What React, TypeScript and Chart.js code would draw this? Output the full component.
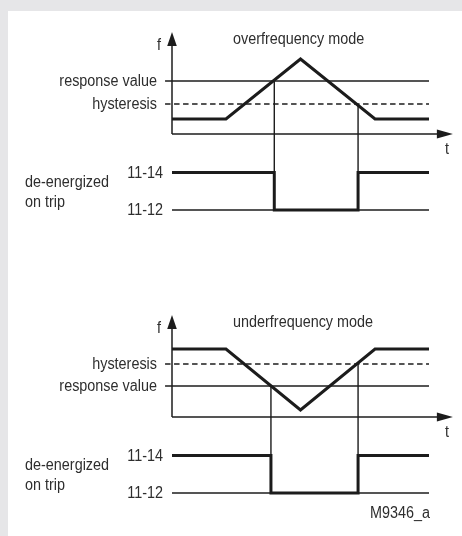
import React, { useEffect, useRef } from 'react';
import { Chart, registerables } from 'chart.js';

Chart.register(...registerables);

// ---------- data (time in arbitrary units: 0 = f-axis, 100 = end of trace; f in arbitrary units, 0 = t-axis)
const SIGNAL_T = [0, 21, 50, 79, 100];
const OVER_F = [1.5, 1.5, 7.5, 1.5, 1.5];
const UNDER_F = [6.8, 6.8, 0.7, 6.8, 6.8];
const THRESHOLD_LABELS = ['response value', 'hysteresis'];
const OVER_THRESHOLDS = [5.3, 3.0];
const UNDER_THRESHOLDS = [3.1, 5.3];
// relay switch times: first at response value crossing, second at hysteresis crossing
const OVER_SWITCH_T = [39.8, 72.4];
const UNDER_SWITCH_T = [38.5, 72.4];
const RELAY_LABELS = ['11-14', '11-12'];
const RELAY_LEVELS = [-3.85, -7.6];
const RELAY_STATES = [0, 1, 0, 0]; // index into RELAY_LEVELS at [0, s1, s2, 100]
const T_END = 100;
const F_AXIS_TIP = 10.2;
const T_AXIS_TIP = 109.3;
const TICK_START = -2.7;

const W = 462;
const FONT = '15px "Liberation Sans", Arial, sans-serif';
const INK = '#1c1c1c';
const TEXT = '#2e2e2e';

type Panel = {
  title: string;
  signal: number[];
  thresholds: number[];
  switchT: number[];
  top: number;
  height: number;
  footer?: string;
};

const PANELS: Panel[] = [
  { title: 'overfrequency mode', signal: OVER_F, thresholds: OVER_THRESHOLDS, switchT: OVER_SWITCH_T, top: 0, height: 283 },
  { title: 'underfrequency mode', signal: UNDER_F, thresholds: UNDER_THRESHOLDS, switchT: UNDER_SWITCH_T, top: 283, height: 253, footer: 'M9346_a' },
];

function line(data: { x: number; y: number }[], width: number, extra: any = {}) {
  return {
    data,
    borderColor: INK,
    borderWidth: width,
    pointRadius: 0,
    pointHoverRadius: 0,
    fill: false,
    tension: 0,
    clip: false,
    borderCapStyle: 'butt',
    borderJoinStyle: 'miter',
    ...extra,
  };
}

function makeConfig(p: Panel): any {
  const datasets: any[] = [];
  // axes
  datasets.push(line([{ x: 0, y: 0 }, { x: 0, y: F_AXIS_TIP - 1.2 }], 1.5));
  datasets.push(line([{ x: 0, y: 0 }, { x: T_AXIS_TIP - 5, y: 0 }], 1.5));
  // threshold lines
  datasets.push(line([{ x: TICK_START, y: p.thresholds[0] }, { x: T_END, y: p.thresholds[0] }], 1.4));
  datasets.push(line([{ x: TICK_START, y: p.thresholds[1] }, { x: T_END, y: p.thresholds[1] }], 1.4, { borderDash: [5.5, 3.5] }));
  // vertical switching lines
  p.switchT.forEach((t, i) => {
    datasets.push(line([{ x: t, y: p.thresholds[i] }, { x: t, y: RELAY_LEVELS[1] }], 1.4));
  });
  // relay baseline 11-12
  datasets.push(line([{ x: 0, y: RELAY_LEVELS[1] }, { x: T_END, y: RELAY_LEVELS[1] }], 1.4));
  // relay state
  const relayT = [0, p.switchT[0], p.switchT[1], T_END];
  datasets.push(line(relayT.map((t, i) => ({ x: t, y: RELAY_LEVELS[RELAY_STATES[i]] })), 3, { stepped: true }));
  // frequency signal
  datasets.push(line(SIGNAL_T.map((t, i) => ({ x: t, y: p.signal[i] })), 3));

  const deco = {
    id: 'deco',
    afterDatasetsDraw(chart: any) {
      const ctx = chart.ctx as CanvasRenderingContext2D;
      const xs = chart.scales.x, ys = chart.scales.y;
      const px = (v: number) => xs.getPixelForValue(v);
      const py = (v: number) => ys.getPixelForValue(v);
      ctx.save();
      // arrowheads
      ctx.fillStyle = INK;
      const x0 = px(0), yTip = py(F_AXIS_TIP);
      ctx.beginPath();
      ctx.moveTo(x0, yTip);
      ctx.lineTo(x0 + 4.8, yTip + 14);
      ctx.lineTo(x0 - 4.8, yTip + 14);
      ctx.closePath();
      ctx.fill();
      const y0 = py(0), xTip = px(T_AXIS_TIP);
      ctx.beginPath();
      ctx.moveTo(xTip, y0);
      ctx.lineTo(xTip - 16, y0 - 4.4);
      ctx.lineTo(xTip - 16, y0 + 4.4);
      ctx.closePath();
      ctx.fill();

      // texts (slightly condensed, taller glyphs)
      const txt = (s: string, x: number, y: number, align: CanvasTextAlign) => {
        ctx.save();
        ctx.translate(x, y);
        ctx.scale(0.96, 1.04);
        ctx.textAlign = align;
        ctx.fillText(s, 0, 0);
        ctx.restore();
      };
      ctx.font = FONT;
      ctx.fillStyle = TEXT;
      ctx.textBaseline = 'alphabetic';
      txt(p.title, 233, 44, 'left');
      txt('f', x0 - 13, 50, 'center');
      txt('t', xTip - 6, 154, 'center');
      p.thresholds.forEach((v, i) => txt(THRESHOLD_LABELS[i], x0 - 15, py(v) + 5, 'right'));
      RELAY_LEVELS.forEach((v, i) => txt(RELAY_LABELS[i], x0 - 9, py(v) + 5, 'right'));
      txt('de-energized', 25, py(RELAY_LEVELS[0]) + 14, 'left');
      txt('on trip', 25, py(RELAY_LEVELS[1]) - 3, 'left');
      if (p.footer) txt(p.footer, 430, py(RELAY_LEVELS[1]) + 25, 'right');
      ctx.restore();
    },
  };

  return {
    type: 'line',
    data: { datasets },
    options: {
      responsive: false,
      maintainAspectRatio: false,
      animation: false,
      events: [],
      devicePixelRatio: 1,
      layout: { padding: { left: 172, right: W - 429, top: 34, bottom: p.height - 214 } },
      plugins: { legend: { display: false }, tooltip: { enabled: false }, title: { display: false } },
      scales: {
        x: { type: 'linear', min: 0, max: 100, display: false },
        y: { type: 'linear', min: -8, max: 10, display: false },
      },
    },
    plugins: [deco],
  };
}

function PanelChart({ p }: { p: Panel }) {
  const ref = useRef<HTMLCanvasElement | null>(null);
  useEffect(() => {
    if (!ref.current) return;
    const chart = new Chart(ref.current, makeConfig(p));
    return () => chart.destroy();
  }, [p]);
  return (
    <canvas
      ref={ref}
      width={W}
      height={p.height}
      style={{ position: 'absolute', left: 0, top: p.top, width: W, height: p.height }}
    />
  );
}

export default function App() {
  return (
    <div style={{ position: 'fixed', left: 0, top: 0, width: W, height: 536, background: '#e6e6e8', overflow: 'hidden' }}>
      <div style={{ position: 'absolute', left: 8, top: 11, right: 0, bottom: 0, background: '#ffffff' }} />
      {PANELS.map((p, i) => (
        <PanelChart key={i} p={p} />
      ))}
    </div>
  );
}
